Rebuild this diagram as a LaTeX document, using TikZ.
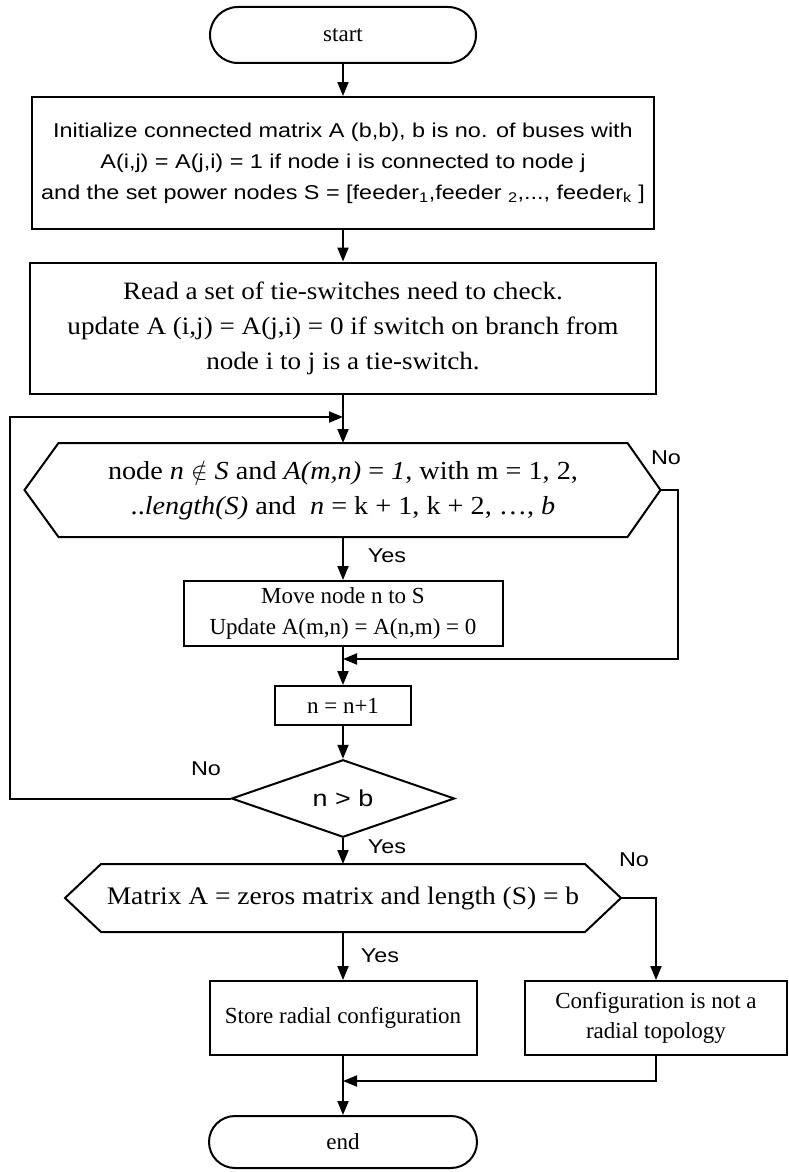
\documentclass[tikz,border=0pt]{standalone}
\usepackage{fontspec}
\setmainfont{Liberation Serif}
\newfontfamily\serw{Liberation Serif}[FakeStretch=1.085]
\newfontfamily\sfn{Liberation Sans}[FakeStretch=1.17]
\usetikzlibrary{arrows.meta,shapes.misc,shapes.geometric}
\begin{document}
\begin{tikzpicture}[x=1pt,y=-1pt,
  line width=2pt,
  >={Triangle[length=14pt,width=11pt]},
  box/.style={draw,rectangle,inner sep=0pt,align=center},
  term/.style={draw,rounded rectangle,inner sep=0pt,font=\fontsize{23}{26}\selectfont},
  hexin/.style={draw=none,rectangle,inner sep=0pt,align=center},
  sertxt/.style={font=\serw\fontsize{25}{35}\selectfont},
  smtxt/.style={font=\fontsize{23}{31}\selectfont},
  sanstxt/.style={font=\sfn\fontsize{20}{31}\selectfont},
  lbl/.style={inner sep=0pt,font=\sfn\fontsize{20}{24}\selectfont},
  conn/.style={->}
]
\useasboundingbox (0,0) rectangle (788,1172);

\node[term,minimum width=266pt,minimum height=56pt] (start) at (343,35) {start};

\node[box,sanstxt,minimum width=622pt,minimum height=132pt] (b1) at (343,163)
 {Initialize connected matrix A (b,b), b is no. of buses with\\
  A(i,j) = A(j,i) = 1 if node i is connected to node j\\
  and the set power nodes S = [feeder\textsubscript{1},feeder \textsubscript{2},..., feeder\textsubscript{k} ]};

\node[box,sertxt,minimum width=626pt,minimum height=131pt] (b2) at (343,328)
 {Read a set of tie-switches need to check.\\
  update A (i,j) = A(j,i) = 0 if switch on branch from\\
  node i to j is a tie-switch.};

\node[hexin,font=\serw\fontsize{26}{35}\selectfont,minimum width=567pt,minimum height=92pt] (h1) at (343,490)
 {node \textit{n} $\notin$ \textit{S} and \textit{A(m,n)} = \textit{1}, with m = 1, 2,\\
  ..\textit{length(S)} and\ \ \textit{n} = k + 1, k + 2, \ldots, \textit{b}};
\draw (h1.north west) -- (h1.north east) -- ([xshift=33pt]h1.east) coordinate (h1r)
  -- (h1.south east) -- (h1.south west) -- ([xshift=-34pt]h1.west) -- cycle;

\node[box,smtxt,minimum width=319pt,minimum height=65pt] (b3) at (343,613.5)
 {Move node n to S\\ Update A(m,n) = A(n,m) = 0};

\node[box,smtxt,minimum width=136pt,minimum height=39pt] (b4) at (343,705.5) {n = n+1};

\node[draw,diamond,inner sep=0pt,minimum width=223pt,minimum height=73pt,font=\sfn\fontsize{23}{28}\selectfont] (d) at (343,798.5) {n > b};

\node[hexin,font=\serw\fontsize{25.3}{30}\selectfont,minimum width=482pt,minimum height=66pt] (h2) at (343,898)
 {Matrix A = zeros matrix and length (S) = b};
\draw (h2.north west) -- (h2.north east) -- ([xshift=36pt]h2.east) coordinate (h2r)
  -- (h2.south east) -- (h2.south west) -- ([xshift=-36pt]h2.west) -- cycle;

\node[box,smtxt,minimum width=267pt,minimum height=74pt] (b5) at (343,1018) {Store radial configuration};
\node[box,smtxt,font=\fontsize{23}{30}\selectfont,minimum width=262pt,minimum height=74pt] (b6) at (656,1018) {Configuration is not a\\ radial topology};

\node[term,minimum width=268pt,minimum height=52pt] (end) at (343,1142) {end};

% connectors
\draw[conn] (start) -- (b1);
\draw[conn] (b1) -- (b2);
\draw[conn] (b2) -- (h1.north);
\coordinate (loopin) at (343,417);
\draw[conn] (d.west) -| (10,417) -- (loopin);
\draw[conn] (h1.south) -- (b3.north);
\coordinate (m1) at (343,659);
\draw[conn] (h1r) -- (678,490) |- (m1);
\draw[conn] (b3.south) -- (b4.north);
\draw[conn] (b4.south) -- (d.north);
\draw[conn] (d.south) -- (h2.north);
\draw[conn] (h2.south) -- (b5.north);
\draw[conn] (h2r) -| (b6.north);
\draw[conn] (b5.south) -- (end.north);
\coordinate (m2) at (343,1081);
\draw[conn] (b6.south) |- (m2);

% labels
\node[lbl] (no1) at (666,458) {No};
\node[lbl] (yes1) at (387,556) {Yes};
\node[lbl] (no2) at (206,769) {No};
\node[lbl] (yes2) at (387,847) {Yes};
\node[lbl] (no3) at (634,860) {No};
\node[lbl] (yes3) at (380,956) {Yes};
\end{tikzpicture}
\end{document}
